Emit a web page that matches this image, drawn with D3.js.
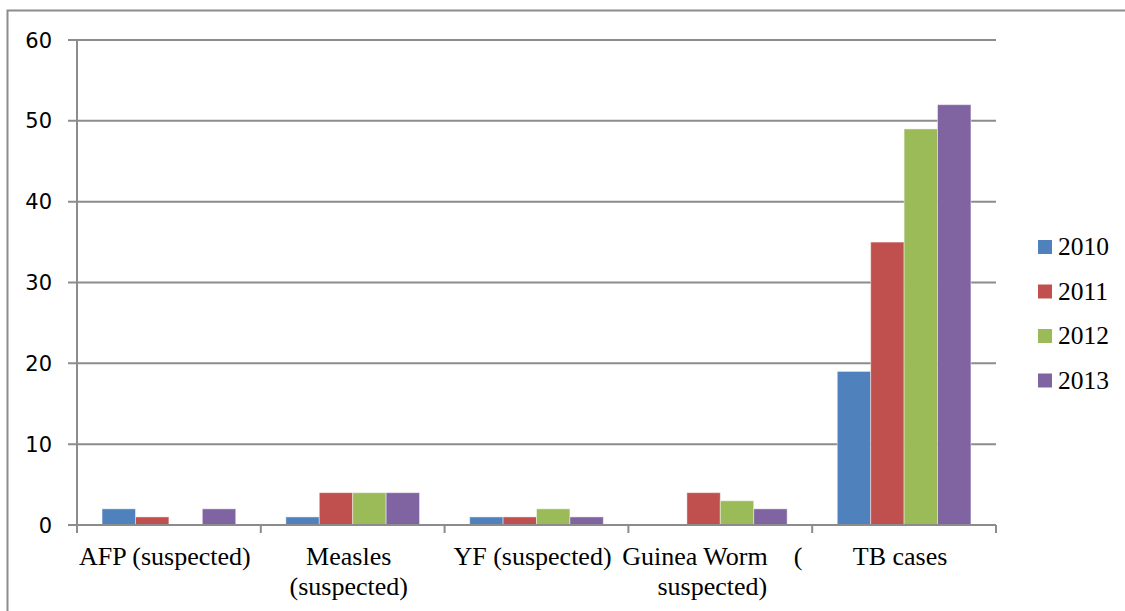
<!DOCTYPE html>
<html>
<head>
<meta charset="utf-8">
<script src="https://cdn.jsdelivr.net/npm/d3@7"></script>
<style>
  html, body { margin: 0; padding: 0; background: #fff; }
  svg { display: block; }
  .serif { font-family: "Liberation Serif", "Times New Roman", Times, "DejaVu Serif", serif; }
  .sans { font-family: "DejaVu Sans", Verdana, sans-serif; }
</style>
</head>
<body>
<svg id="chart" width="1125" height="611"></svg>
<script>
// Reported cases by disease, 2010–2013
const categories = ["AFP (suspected)", "Measles (suspected)", "YF (suspected)", "Guinea Worm ( suspected)", "TB cases"];
const categoryLines = [["AFP (suspected)"], ["Measles", "(suspected)"], ["YF (suspected)"], ["Guinea Worm    (", "suspected)"], ["TB cases"]];
const years = ["2010", "2011", "2012", "2013"];
const values2010 = [2, 1, 1, 0, 19];
const values2011 = [1, 4, 1, 4, 35];
const values2012 = [0, 4, 2, 3, 49];
const values2013 = [2, 4, 1, 2, 52];
const seriesValues = [values2010, values2011, values2012, values2013];
const yTicks = [0, 10, 20, 30, 40, 50, 60];
const colors = ["#4F81BD", "#C0504D", "#9BBB59", "#8064A2"];

const svg = d3.select("#chart");
const margin = { left: 77, top: 40, right: 996, bottom: 525 };
const gridColor = "#8c8c8c";

// outer chart frame
svg.append("rect")
  .attr("x", 7.5).attr("y", 10.5)
  .attr("width", 1300).attr("height", 800)
  .attr("fill", "none").attr("stroke", gridColor).attr("stroke-width", 2);

const x = d3.scaleBand().domain(categories).range([margin.left, margin.right]).paddingInner(0).paddingOuter(0);
const y = d3.scaleLinear().domain([0, 60]).range([margin.bottom, margin.top]);

// bar slots: gap width 150% of a bar
const barW = x.bandwidth() / 5.5;
const xs = d3.scaleBand().domain(years).range([barW * 0.75, barW * 4.75]).padding(0);

// horizontal gridlines with left tick stubs
svg.append("g")
  .selectAll("line")
  .data(yTicks.filter(t => t > 0))
  .join("line")
  .attr("x1", margin.left - 9).attr("x2", margin.right)
  .attr("y1", d => y(d)).attr("y2", d => y(d))
  .attr("stroke", gridColor).attr("stroke-width", 2);

// bars
const groups = svg.append("g")
  .selectAll("g")
  .data(years)
  .join("g")
  .attr("fill", (d, i) => colors[i]);

groups.selectAll("rect")
  .data((yr, i) => categories.map((c, j) => ({ c, yr, v: seriesValues[i][j] })))
  .join("rect")
  .attr("x", d => x(d.c) + xs(d.yr))
  .attr("width", xs.bandwidth())
  .attr("y", d => y(d.v))
  .attr("height", d => y(0) - y(d.v))
  .attr("stroke", "rgba(255,255,255,0.45)")
  .attr("stroke-width", 1);

// y axis line
svg.append("line")
  .attr("x1", margin.left).attr("x2", margin.left)
  .attr("y1", margin.top).attr("y2", margin.bottom)
  .attr("stroke", gridColor).attr("stroke-width", 2);

// x axis line and category ticks
svg.append("line")
  .attr("x1", margin.left - 9).attr("x2", margin.right)
  .attr("y1", margin.bottom).attr("y2", margin.bottom)
  .attr("stroke", gridColor).attr("stroke-width", 2);

const boundaries = categories.map(c => x(c)).concat([margin.right]);
svg.append("g")
  .selectAll("line")
  .data(boundaries)
  .join("line")
  .attr("x1", d => d).attr("x2", d => d)
  .attr("y1", margin.bottom).attr("y2", margin.bottom + 8)
  .attr("stroke", gridColor).attr("stroke-width", 2);

// y tick labels
svg.append("g")
  .selectAll("text")
  .data(yTicks)
  .join("text")
  .attr("class", "sans")
  .attr("x", 52)
  .attr("y", d => y(d))
  .attr("dy", "0.36em")
  .attr("text-anchor", "end")
  .attr("font-size", 21)
  .attr("fill", "#000")
  .text(d => d);

// category labels (the padded Guinea Worm label sits a little further left)
const labels = svg.append("g")
  .selectAll("text")
  .data(categories)
  .join("text")
  .attr("class", "serif")
  .attr("text-anchor", "middle")
  .attr("font-size", 26)
  .attr("fill", "#000")
  .style("white-space", "pre");

labels.selectAll("tspan")
  .data((c, i) => categoryLines[i].map(t => ({
    t,
    cx: x(c) + x.bandwidth() / 2 - (categoryLines[i][0].endsWith("(") ? 8 : 4)
  })))
  .join("tspan")
  .attr("x", d => d.cx)
  .attr("y", (d, k) => 565 + k * 30)
  .text(d => d.t);

// legend
const legend = svg.append("g")
  .selectAll("g")
  .data(years)
  .join("g")
  .attr("transform", (d, i) => `translate(1038, ${240 + i * 44.5})`);

legend.append("rect")
  .attr("width", 14).attr("height", 14)
  .attr("fill", (d, i) => colors[i]);

legend.append("text")
  .attr("class", "serif")
  .attr("x", 20).attr("y", 15)
  .attr("font-size", 25.5)
  .attr("fill", "#000")
  .text(d => d);
</script>
</body>
</html>
